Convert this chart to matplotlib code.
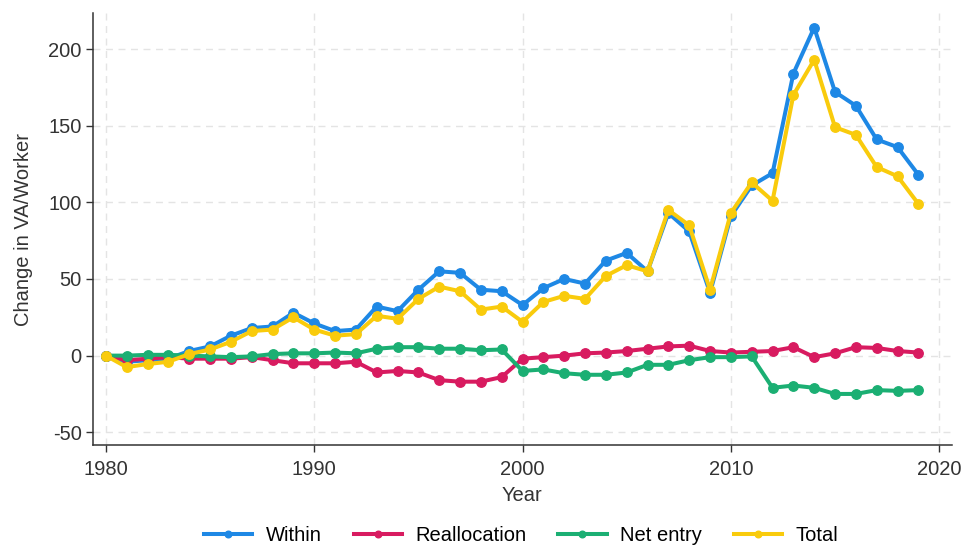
import numpy as np
import matplotlib.pyplot as plt

plt.rcParams['font.family'] = ['Liberation Sans', 'DejaVu Sans']
plt.rcParams['axes.unicode_minus'] = False

years = np.arange(1980, 2020)

within = [0, -4, -3, -2, 3, 6, 13, 18, 19, 28,
          21, 16, 17, 32, 29, 43, 55, 54, 43, 42,
          33, 44, 50, 47, 62, 67, 55, 93, 81, 41,
          91, 111, 119, 184, 214, 172, 163, 141, 136, 118]
reallocation = [0, -3, -2, -1, -2, -2, -2, -1, -3, -5,
                -5, -5, -4, -11, -10, -11, -16, -17, -17, -14,
                -2, -1, 0, 1.5, 2, 3, 4.5, 6, 6.5, 3,
                2, 2.5, 3, 5.5, -1, 1.5, 5.5, 5, 3, 2]
net_entry = [0, 0, 0.5, 0.5, 0, -0.5, -1, -0.5, 1, 1.5,
             1.5, 2, 1.5, 4.5, 5.5, 5.5, 4.5, 4.5, 3.5, 4,
             -10, -9, -11.5, -12.5, -12.5, -11, -6, -6, -3, -1,
             -1, -0.5, -21, -19.5, -21, -25, -25, -22.5, -23, -22.5]
total = [0, -7.5, -5.5, -4, 1, 4, 9, 16, 17, 25,
         17, 13, 14, 26, 24, 37, 45, 42, 30, 32,
         22, 35, 39, 37, 52, 59, 55, 95, 85, 43,
         93, 113, 101, 170, 193, 149, 144, 123, 117, 99]

series = [("Within", within, "#1E88E5"),
          ("Reallocation", reallocation, "#D81B60"),
          ("Net entry", net_entry, "#1BAF73"),
          ("Total", total, "#F9CB0C")]

fig = plt.figure(figsize=(9.62, 5.47), dpi=100)
ax = fig.add_axes([0.0964, 0.1865, 0.8929, 0.7897])

for name, vals, col in series:
    ax.plot(years, vals, color=col, lw=2.9, marker="o", ms=6.8, label=name)

ax.set_xlim(1979.37, 2020.6)
ax.set_ylim(-58.3, 223.5)
ax.set_xticks(range(1980, 2021, 10))
ax.set_yticks(range(-50, 201, 50))
ax.grid(True, color="#e4e4e4", ls=(0, (5, 4)), lw=1)
ax.set_axisbelow(True)

for s in ("top", "right"):
    ax.spines[s].set_visible(False)
for s in ("left", "bottom"):
    ax.spines[s].set_color("#333333")
    ax.spines[s].set_linewidth(1.1)
ax.tick_params(axis="both", length=5, width=1, color="#333333",
               labelsize=14.5, labelcolor="#333333", pad=3)
ax.tick_params(axis="x", pad=6)

ax.set_xlabel("Year", fontsize=14.5, color="#333333", labelpad=5)
ax.set_ylabel("Change in VA/Worker", fontsize=14.5, color="#333333", labelpad=11)

# legend row along the bottom edge
fig.legend(loc="lower center", bbox_to_anchor=(0.5416, -0.029), ncol=4,
           frameon=False, fontsize=14.5, handlelength=2.4, columnspacing=1.6,
           handletextpad=0.65, markerscale=0.7)

fig.savefig("out.png", dpi=100)
